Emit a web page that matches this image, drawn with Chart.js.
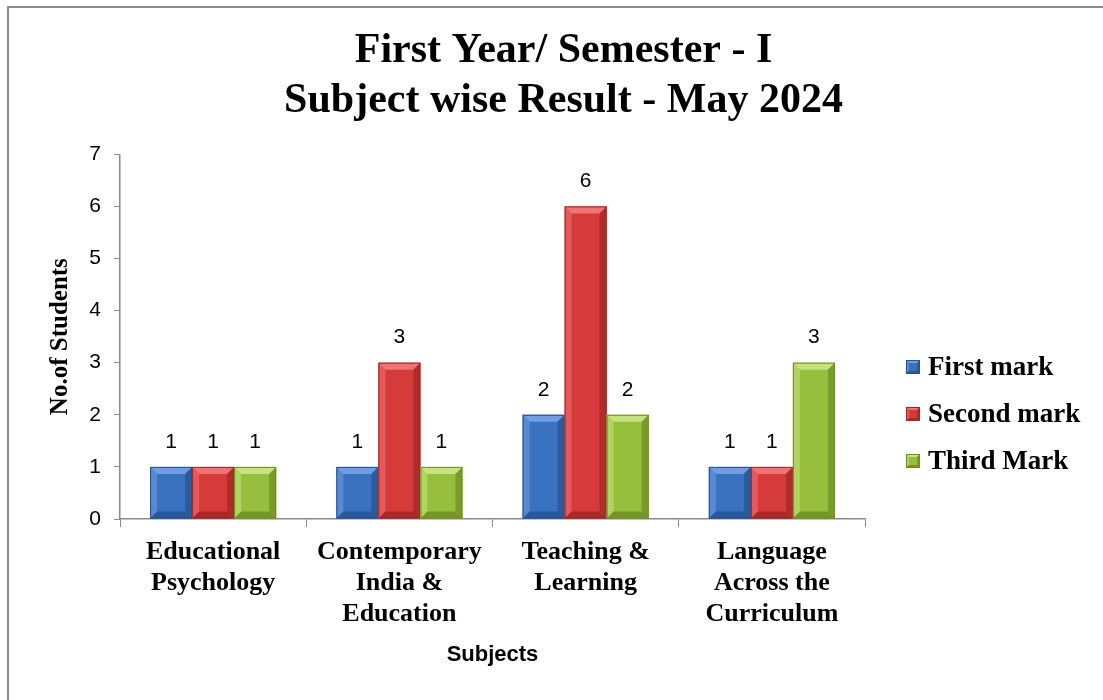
<!DOCTYPE html>
<html>
<head>
<meta charset="utf-8">
<script src="https://cdn.jsdelivr.net/npm/chart.js@4/dist/chart.umd.min.js"></script>
<style>
  html, body { margin: 0; padding: 0; background: #ffffff; }
  #wrap { width: 1103px; height: 700px; position: relative; }
</style>
</head>
<body>
<div id="wrap"><canvas id="c" width="1103" height="700"></canvas></div>
<script>
// ---- Data ----
const categories = [
  ["Educational", "Psychology"],
  ["Contemporary", "India &", "Education"],
  ["Teaching &", "Learning"],
  ["Language", "Across the", "Curriculum"]
];
const seriesNames = ["First mark", "Second mark", "Third Mark"];
const firstMark  = [1, 1, 2, 1];
const secondMark = [1, 3, 6, 1];
const thirdMark  = [1, 1, 2, 3];
const yMin = 0, yMax = 7, yStep = 1;
const titleLines = ["First Year/ Semester - I", "Subject wise Result - May 2024"];
const xAxisTitle = "Subjects";
const yAxisTitle = "No.of Students";

// ---- Styles ----
const palette = [
  { base: '#3b72c0', light: '#6f9fe2', dark: '#24518f' },
  { base: '#d63b3b', light: '#f07373', dark: '#9e2626' },
  { base: '#97bf3d', light: '#c6e47e', dark: '#6c8c22' }
];
const serif = '"Liberation Serif", "DejaVu Serif", serif';
const sans = '"Liberation Sans", Arial, sans-serif';

function drawBevel(ctx, left, top, right, bottom, col, b) {
  ctx.save();
  ctx.fillStyle = col.base;
  ctx.fillRect(left, top, right - left, bottom - top);
  ctx.fillStyle = col.light;
  ctx.beginPath();
  ctx.moveTo(left, top); ctx.lineTo(right, top);
  ctx.lineTo(right - b, top + b); ctx.lineTo(left + b, top + b);
  ctx.closePath(); ctx.fill();
  ctx.globalAlpha = 0.55;
  ctx.beginPath();
  ctx.moveTo(left, top); ctx.lineTo(left + b, top + b);
  ctx.lineTo(left + b, bottom - b); ctx.lineTo(left, bottom);
  ctx.closePath(); ctx.fill();
  ctx.globalAlpha = 0.7;
  ctx.fillStyle = col.dark;
  ctx.beginPath();
  ctx.moveTo(right, top); ctx.lineTo(right - b, top + b);
  ctx.lineTo(right - b, bottom - b); ctx.lineTo(right, bottom);
  ctx.closePath(); ctx.fill();
  ctx.globalAlpha = 0.8;
  ctx.beginPath();
  ctx.moveTo(left, bottom); ctx.lineTo(left + b, bottom - b);
  ctx.lineTo(right - b, bottom - b); ctx.lineTo(right, bottom);
  ctx.closePath(); ctx.fill();
  ctx.globalAlpha = 1;
  ctx.strokeStyle = col.dark;
  ctx.lineWidth = 1;
  ctx.strokeRect(left + 0.5, top + 0.5, right - left - 1, bottom - top - 1);
  ctx.restore();
}

const decorPlugin = {
  id: 'decor',
  beforeDraw(chart) {
    const ctx = chart.ctx;
    ctx.save();
    ctx.fillStyle = '#ffffff';
    ctx.fillRect(0, 0, chart.width, chart.height);
    ctx.fillStyle = '#8c8c8c';
    ctx.fillRect(7, 6, chart.width - 7, 2);
    ctx.fillRect(7, 6, 2, chart.height - 6);
    ctx.restore();
  },
  afterDatasetsDraw(chart) {
    const ctx = chart.ctx;
    chart.data.datasets.forEach((ds, di) => {
      const meta = chart.getDatasetMeta(di);
      meta.data.forEach((bar, i) => {
        const p = bar.getProps(['x', 'y', 'base', 'width'], true);
        const left = p.x - p.width / 2, right = p.x + p.width / 2;
        drawBevel(ctx, left, p.y, right, p.base, palette[di], 7);
        ctx.save();
        ctx.fillStyle = '#000000';
        ctx.font = '21px ' + sans;
        ctx.textAlign = 'center';
        ctx.textBaseline = 'middle';
        ctx.fillText(String(ds.data[i]), p.x, p.y - 25);
        ctx.restore();
      });
    });
  },
  afterDraw(chart) {
    const ctx = chart.ctx;
    const x0 = 906, y0 = 367, gap = 47, box = 14;
    chart.data.datasets.forEach((ds, di) => {
      const cy = y0 + di * gap;
      drawBevel(ctx, x0, cy - box / 2, x0 + box, cy + box / 2, palette[di], 3);
      ctx.save();
      ctx.fillStyle = '#000000';
      ctx.font = 'bold 27px ' + serif;
      ctx.textAlign = 'left';
      ctx.textBaseline = 'middle';
      ctx.fillText(ds.label, x0 + 22, cy + 1);
      ctx.restore();
    });
  }
};

const datasets = [firstMark, secondMark, thirdMark].map((vals, i) => ({
  label: seriesNames[i],
  data: vals,
  backgroundColor: 'rgba(0,0,0,0)',
  borderWidth: 0,
  categoryPercentage: 0.677,
  barPercentage: 1.0
}));

new Chart(document.getElementById('c'), {
  type: 'bar',
  data: { labels: categories, datasets },
  plugins: [decorPlugin],
  options: {
    responsive: false,
    animation: false,
    devicePixelRatio: 1,
    layout: { padding: { left: 24, right: 0, top: 0, bottom: 0 } },
    plugins: {
      legend: { display: false },
      tooltip: { enabled: false },
      title: {
        display: true,
        text: titleLines,
        color: '#000000',
        font: { family: serif, size: 42, weight: 'bold', lineHeight: 1.17 },
        padding: { top: 27, bottom: 29 }
      }
    },
    scales: {
      x: {
        afterFit(s) { s.height = 181; },
        grid: { display: true, drawOnChartArea: false, drawTicks: true, tickLength: 8, color: '#8a8a8a', offset: true },
        border: { display: true, color: '#8a8a8a', width: 1.5 },
        ticks: {
          color: '#000000',
          font: { family: serif, size: 26, weight: 'bold', lineHeight: 1.19 },
          padding: 10,
          maxRotation: 0,
          minRotation: 0,
          autoSkip: false
        },
        title: {
          display: true,
          text: xAxisTitle,
          color: '#000000',
          font: { family: sans, size: 22, weight: 'bold', lineHeight: 1.2 },
          padding: { top: 0, bottom: 32 }
        }
      },
      y: {
        min: yMin,
        max: yMax,
        afterFit(s) { s.width = 96; },
        grid: { display: true, drawOnChartArea: false, drawTicks: true, tickLength: 6, color: '#8a8a8a' },
        border: { display: true, color: '#8a8a8a', width: 1.5 },
        ticks: {
          stepSize: yStep,
          color: '#000000',
          font: { family: sans, size: 21 },
          padding: 13
        },
        title: {
          display: true,
          text: yAxisTitle,
          color: '#000000',
          font: { family: serif, size: 25, weight: 'bold', lineHeight: 1.2 },
          padding: { top: 22, bottom: 0 }
        }
      },
      legendSpace: {
        type: 'linear',
        position: 'right',
        display: true,
        afterFit(s) { s.width = 238; },
        grid: { display: false, drawTicks: false },
        border: { display: false },
        ticks: { display: false },
        title: { display: false }
      }
    }
  }
});
</script>
</body>
</html>
